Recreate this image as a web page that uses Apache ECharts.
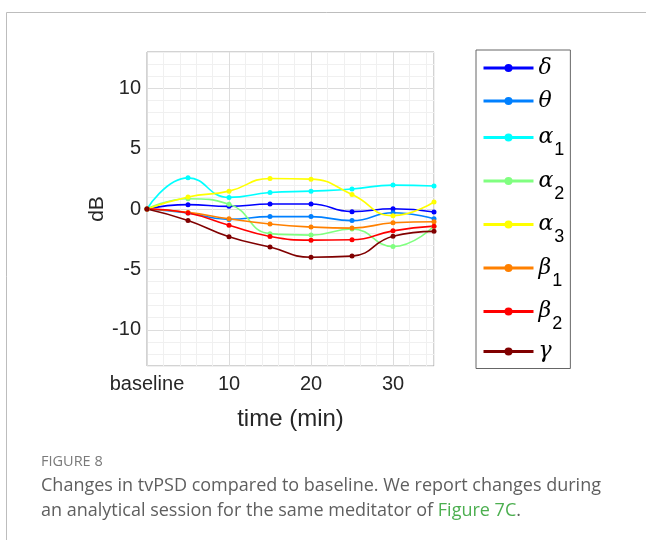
<!DOCTYPE html>
<html>
<head>
<meta charset="utf-8">
<script src="https://cdn.jsdelivr.net/npm/echarts@6/dist/echarts.min.js"></script>
<style>
  html, body { margin: 0; padding: 0; background: #fff; }
  #chart { width: 646px; height: 540px; }
</style>
</head>
<body>
<div id="chart"></div>
<script>
// time points (min), 0 = baseline
var times = [0, 5, 10, 15, 20, 25, 30, 35];

// band names as shown in the legend
var bands = ['δ', 'θ', 'α1', 'α2', 'α3', 'β1', 'β2', 'γ'];

// dB change per band
var delta  = [0, 0.36, 0.22, 0.41, 0.41, -0.22, 0.02, -0.25];
var theta  = [0, -0.33, -0.86, -0.63, -0.63, -0.96, -0.31, -0.81];
var alpha1 = [0, 2.58, 0.96, 1.36, 1.48, 1.65, 1.98, 1.91];
var alpha2 = [0, 0.85, 0.4, -2.04, -2.16, -1.65, -3.1, -1.42];
var alpha3 = [0, 1.0, 1.48, 2.53, 2.47, 1.2, -0.55, 0.58];
var beta1  = [0, -0.28, -0.81, -1.24, -1.49, -1.58, -1.14, -1.05];
var beta2  = [0, -0.33, -1.35, -2.27, -2.58, -2.55, -1.81, -1.42];
var gamma  = [0, -0.95, -2.3, -3.15, -3.99, -3.9, -2.25, -1.85];

var values = [delta, theta, alpha1, alpha2, alpha3, beta1, beta2, gamma];
// jet(8)
var colors = ['#0000ff', '#0080ff', '#00ffff', '#80ff80', '#ffff00', '#ff8000', '#ff0000', '#800000'];

var majorGrid = '#dddddd';
var minorGrid = '#f0f0f0';
var ink = '#262626';
var clear = 'rgba(255,255,255,0)';

var chart = echarts.init(document.getElementById('chart'), null, { renderer: 'canvas' });

var series = bands.map(function(name, i) {
  return {
    name: name,
    type: 'line',
    smooth: true,
    symbol: 'circle',
    symbolSize: 5,
    color: colors[i],
    lineStyle: { width: 1.6, color: colors[i] },
    itemStyle: { color: colors[i] },
    data: times.map(function(t, j) { return [t, values[i][j]]; })
  };
});

chart.setOption({
  animation: false,
  backgroundColor: '#fff',
  grid: {
    left: 147, top: 52, width: 287, height: 314,
    show: true, borderColor: '#a6a6a6', borderWidth: 1, backgroundColor: '#fff'
  },
  xAxis: {
    type: 'value',
    min: 0, max: 35, interval: 2,
    name: 'time (min)',
    nameLocation: 'middle',
    nameGap: 41,
    nameTextStyle: { color: ink, fontSize: 24, fontFamily: 'Liberation Sans' },
    axisLine: { show: false },
    axisTick: { show: false },
    axisLabel: {
      color: ink, fontSize: 20, fontFamily: 'Liberation Sans', margin: 8,
      formatter: function(v) {
        if (v === 0) return 'baseline';
        return v % 10 === 0 ? String(v) : '';
      }
    },
    splitLine: { show: true, lineStyle: { color: [majorGrid, minorGrid, minorGrid, minorGrid, minorGrid], width: 1 } }
  },
  yAxis: {
    type: 'value',
    min: -13, max: 13, interval: 1,
    name: 'dB',
    nameLocation: 'middle',
    nameGap: 35,
    nameTextStyle: { color: ink, fontSize: 21, fontFamily: 'Liberation Sans' },
    axisLine: { show: false },
    axisTick: { show: false },
    axisLabel: {
      color: ink, fontSize: 20, fontFamily: 'Liberation Sans', margin: 6,
      formatter: function(v) { return v % 5 === 0 ? String(v) : ''; }
    },
    splitLine: { show: true, lineStyle: { color: [minorGrid, minorGrid, minorGrid, majorGrid, minorGrid], width: 1 } }
  },
  legend: {
    orient: 'vertical',
    left: 476, top: 50,
    itemWidth: 50, itemHeight: 10, itemGap: 3,
    padding: [3, 6, 2, 6],
    borderColor: '#666', borderWidth: 1, backgroundColor: '#fff',
    data: bands,
    lineStyle: { width: 3 },
    formatter: function(name) {
      if (name.length > 1) return '{gs|' + name.charAt(0) + '}{s|' + name.slice(1) + '}';
      return '{g|' + name + '}';
    },
    textStyle: {
      rich: {
        g: { fontFamily: 'DejaVu Serif', fontStyle: 'italic', fontSize: 22, padding: [4, 0, 4, 0], backgroundColor: clear, color: '#000' },
        gs: { fontFamily: 'DejaVu Serif', fontStyle: 'italic', fontSize: 22, padding: [7.5, 0, 7.5, 0], backgroundColor: clear, color: '#000' },
        s: { fontFamily: 'Liberation Sans', fontSize: 18, lineHeight: 18, padding: [13, 0, -13, 1], color: '#000' }
      }
    }
  },
  graphic: [
    {
      type: 'rect', silent: true,
      shape: { x: 6.5, y: 12.5, width: 700, height: 600 },
      style: { fill: 'none', stroke: '#bdbdbd', lineWidth: 1 }
    },
    {
      type: 'text', left: 41, top: 454, silent: true,
      style: { text: 'FIGURE 8', font: '14.5px "Open Sans"', fill: '#7a7a7a' }
    },
    {
      type: 'text', left: 41, top: 477, silent: true,
      style: {
        text: '{t|Changes in tvPSD compared to baseline. We report changes during}\n' +
              '{t|an analytical session for the same meditator of }{l|Figure 7C}{t|.}',
        rich: {
          t: { font: '18px "Open Sans"', fill: '#5f5f5f', lineHeight: 25 },
          l: { font: '18px "Open Sans"', fill: '#4caf50', lineHeight: 25 }
        }
      }
    }
  ],
  series: series
});
</script>
</body>
</html>
